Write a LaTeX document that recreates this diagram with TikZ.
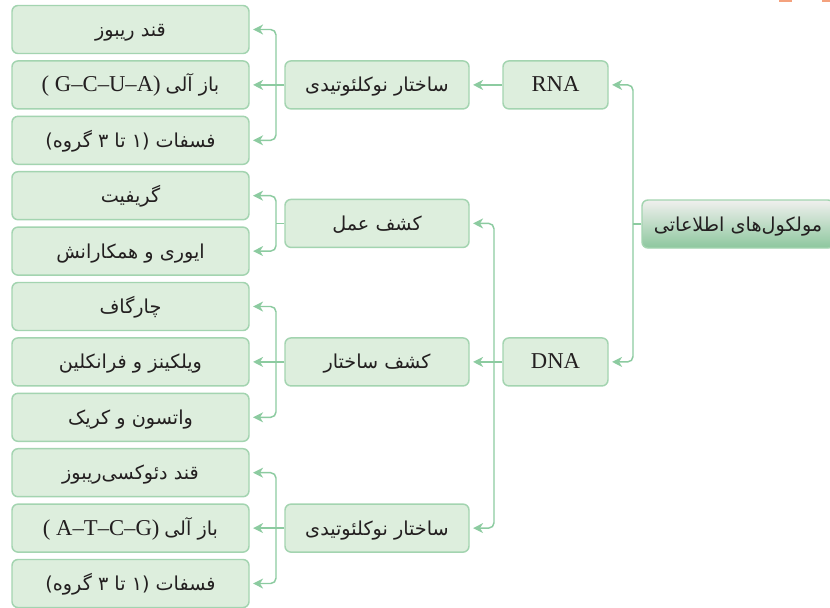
\documentclass[tikz,border=0pt]{standalone}
\usepackage{fontspec}
\setmainfont{Liberation Serif}
\newfontfamily\fa[Script=Arabic]{DejaVu Sans}
\TeXXeTstate=1
\usetikzlibrary{arrows.meta}
\definecolor{boxfill}{HTML}{DDEEDD}
\definecolor{boxdraw}{HTML}{A3D4B0}
\definecolor{linec}{HTML}{8CCBA0}
\definecolor{txt}{HTML}{231F20}
\definecolor{maintop}{HTML}{F0F0EE}
\definecolor{mainbot}{HTML}{8DC79E}
\definecolor{orng}{HTML}{F4A27E}
\newcommand\fatext[1]{{\fa\beginR #1\endR}}
\newcommand\latn[1]{{\rmfamily\fontsize{17}{19}\selectfont #1}}
\begin{document}
\begin{tikzpicture}[x=0.75pt,y=-0.75pt,
  box/.style={draw=boxdraw, fill=boxfill, line width=1.1pt, rounded corners=4.5pt,
    minimum height=36pt, text=txt, inner sep=0pt, text height=12.5pt, text depth=2pt,
    font=\fontsize{14.4}{16}\selectfont},
  leaf/.style={box, minimum width=177.75pt},
  mid/.style={box, minimum width=138pt},
  mol/.style={box, minimum width=78.75pt, font=\rmfamily\fontsize{17}{19}\selectfont},
  mainbox/.style={box, minimum width=144pt, fill=none, top color=maintop, bottom color=mainbot},
  conn/.style={draw=linec, line width=1.1pt, rounded corners=4pt},
  arr/.style={conn, -{Stealth[length=7.5pt,width=7.5pt,inset=2.3pt]}, shorten >=2.5pt}
]
\path[use as bounding box] (0,0) rectangle (830,607);
\fill[white] (0,0) rectangle (830,607);
\draw[orng, line width=1.5pt] (779,0.5) -- (792,0.5);
\draw[orng, line width=1.5pt] (822,0.5) -- (830,0.5);

% leaves
\node[leaf] (l1)  at (130.5,29.5)  {\fatext{قند ریبوز}};
\node[leaf] (l2)  at (130.5,84.9)  {\latn{( G–C–U–A)} \fatext{باز آلی}};
\node[leaf] (l3)  at (130.5,140.3) {\fatext{فسفات (۱ تا ۳ گروه)}};
\node[leaf] (l4)  at (130.5,195.7) {\fatext{گریفیت}};
\node[leaf] (l5)  at (130.5,251.1) {\fatext{ایوری و همکارانش}};
\node[leaf] (l6)  at (130.5,306.5) {\fatext{چارگاف}};
\node[leaf] (l7)  at (130.5,361.9) {\fatext{ویلکینز و فرانکلین}};
\node[leaf] (l8)  at (130.5,417.3) {\fatext{واتسون و کریک}};
\node[leaf] (l9)  at (130.5,472.7) {\fatext{قند دئوکسی‌ریبوز}};
\node[leaf] (l10) at (130.5,528.1) {\latn{( A–T–C–G)} \fatext{باز آلی}};
\node[leaf] (l11) at (130.5,583.5) {\fatext{فسفات (۱ تا ۳ گروه)}};

% middle
\node[mid] (m1) at (377,84.9)  {\fatext{ساختار نوکلئوتیدی}};
\node[mid] (m2) at (377,223.4) {\fatext{کشف عمل}};
\node[mid] (m3) at (377,361.9) {\fatext{کشف ساختار}};
\node[mid] (m4) at (377,528.1) {\fatext{ساختار نوکلئوتیدی}};

% molecules
\node[mol] (rna) at (555.5,84.9)  {RNA};
\node[mol] (dna) at (555.5,361.9) {DNA};

% main
\node[mainbox] (main) at (738,224) {\fatext{مولکول‌های اطلاعاتی}};

% connectors: main
\coordinate (jm) at (633,224);
\draw[conn] (main.west) -- (jm);
\draw[arr] (jm) |- (rna.east);
\draw[arr] (jm) |- (dna.east);

% RNA
\draw[arr] (rna.west) -- (m1.east);

% DNA
\coordinate (jd) at (494,361.9);
\draw[arr] (dna.west) -- (m3.east);
\draw[arr] (jd) |- (m2.east);
\draw[arr] (jd) |- (m4.east);

% m1
\coordinate (j1) at (276,84.9);
\draw[arr] (m1.west) -- (l2.east);
\draw[arr] (j1) |- (l1.east);
\draw[arr] (j1) |- (l3.east);

% m2
\coordinate (j2) at (276,223.4);
\draw[conn] (m2.west) -- (j2);
\draw[arr] (j2) |- (l4.east);
\draw[arr] (j2) |- (l5.east);

% m3
\coordinate (j3) at (276,361.9);
\draw[arr] (m3.west) -- (l7.east);
\draw[arr] (j3) |- (l6.east);
\draw[arr] (j3) |- (l8.east);

% m4
\coordinate (j4) at (276,528.1);
\draw[arr] (m4.west) -- (l10.east);
\draw[arr] (j4) |- (l9.east);
\draw[arr] (j4) |- (l11.east);
\end{tikzpicture}
\end{document}
